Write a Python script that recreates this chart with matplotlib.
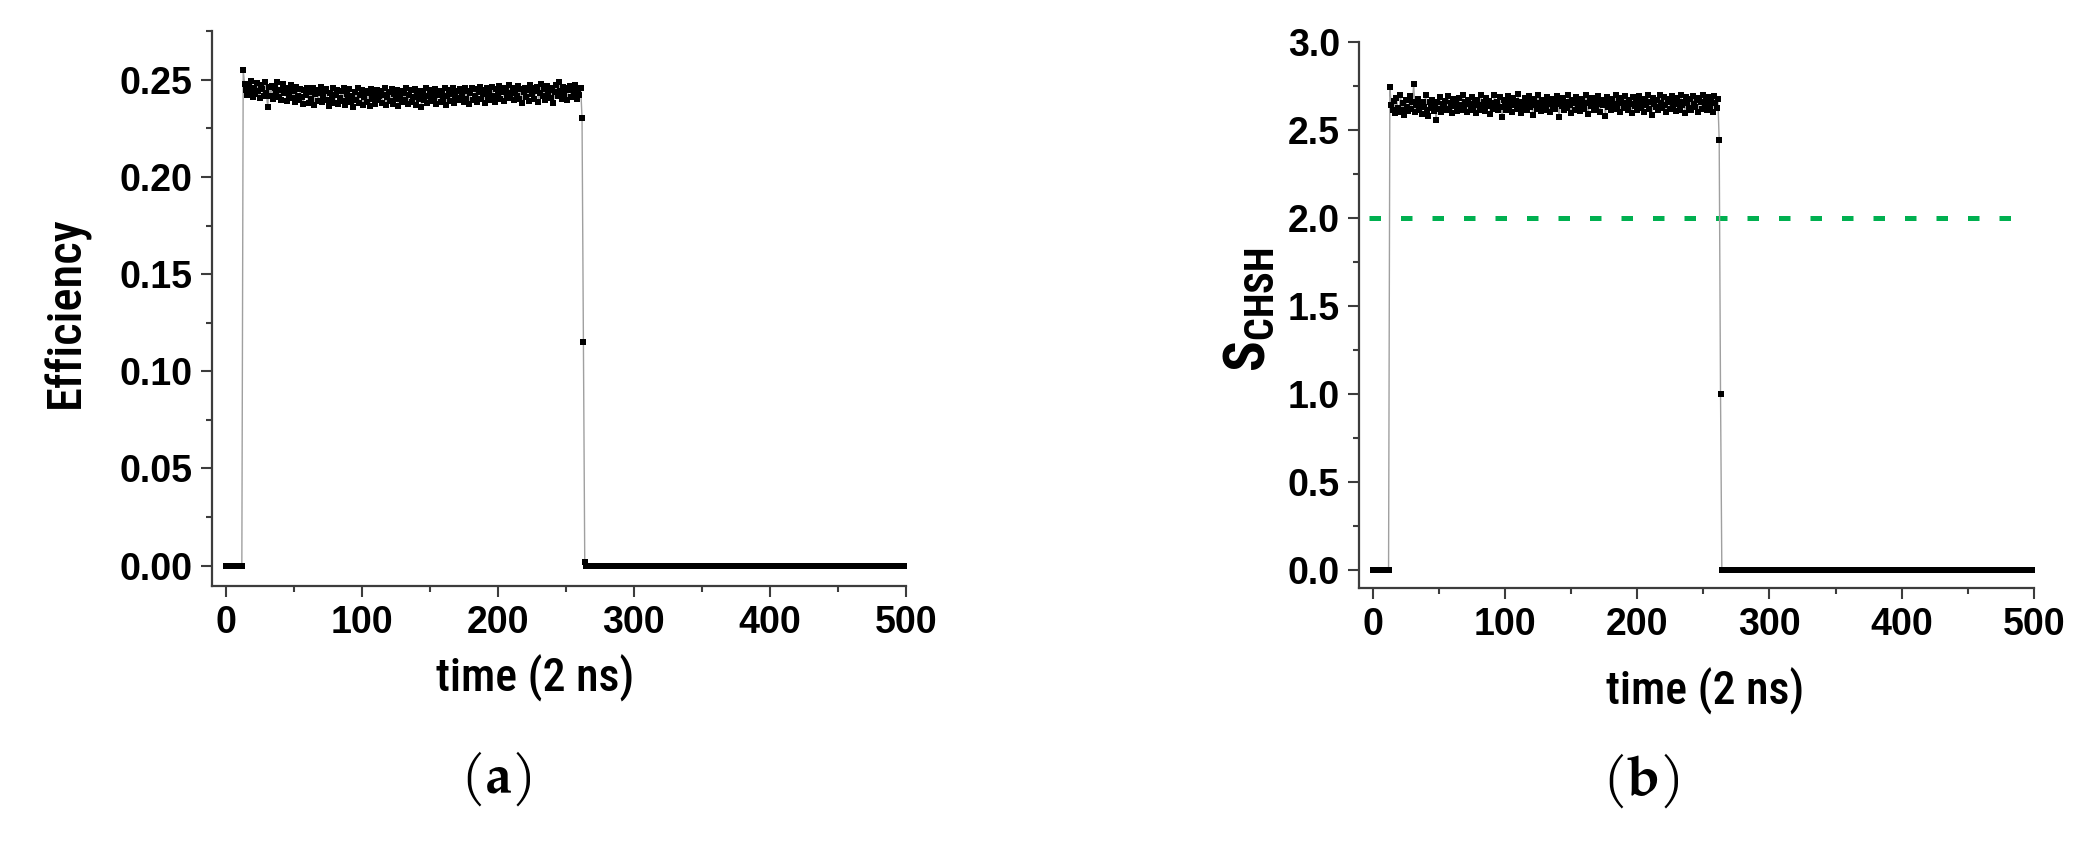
import numpy as np
import matplotlib
matplotlib.use("Agg")
import matplotlib.pyplot as plt
from matplotlib.ticker import MultipleLocator, FormatStrFormatter

plt.rcParams['font.family'] = ['Liberation Sans', 'DejaVu Sans']
plt.rcParams['font.weight'] = 'bold'
plt.rcParams['mathtext.fontset'] = 'custom'
plt.rcParams['mathtext.rm'] = 'Roboto Condensed'
plt.rcParams['mathtext.bf'] = 'TeX Gyre Pagella:bold'

NARROW = ['Roboto Condensed', 'Liberation Sans', 'DejaVu Sans']
SERIF = ['TeX Gyre Pagella', 'Liberation Serif', 'DejaVu Serif']

# ---- data ----
time = np.arange(0, 501)          # time in units of 2 ns
n_off_before = 13                 # t = 0..12 -> zero
n_off_after = 236                 # t = 265..500 -> zero

# efficiency on-plateau, t = 13..261 (units of 1e-4)
eff_on = [2550,
          2480, 2445, 2420, 2470, 2435, 2495, 2410, 2460, 2425, 2485, 2440, 2405, 2475, 2450, 2418, 2490, 2430, 2362, 2465, 2415,
          2470, 2400, 2455, 2425, 2488, 2410, 2445, 2395, 2478, 2430, 2460, 2390, 2450, 2420, 2472, 2405, 2440, 2385, 2465, 2415,
          2395, 2450, 2410, 2375, 2445, 2420, 2460, 2380, 2435, 2400, 2455, 2370, 2425, 2445, 2390, 2430, 2465, 2385, 2415, 2440,
          2450, 2395, 2365, 2430, 2410, 2460, 2380, 2420, 2445, 2375, 2405, 2440, 2390, 2455, 2370, 2425, 2400, 2450, 2385, 2415,
          2360, 2435, 2395, 2455, 2380, 2420, 2445, 2370, 2410, 2440, 2385, 2430, 2365, 2450, 2400, 2425, 2375, 2445, 2395, 2415,
          2440, 2380, 2420, 2455, 2370, 2410, 2435, 2390, 2450, 2375, 2425, 2400, 2445, 2365, 2415, 2440, 2385, 2430, 2395, 2455,
          2375, 2420, 2445, 2385, 2410, 2450, 2370, 2430, 2400, 2440, 2360, 2425, 2395, 2455, 2380, 2415, 2445, 2390, 2435, 2405,
          2450, 2375, 2420, 2440, 2385, 2430, 2400, 2455, 2370, 2415, 2445, 2390, 2425, 2460, 2380, 2410, 2440, 2395, 2450, 2405,
          2425, 2385, 2455, 2400, 2440, 2375, 2430, 2460, 2395, 2415, 2450, 2385, 2435, 2465, 2400, 2425, 2445, 2380, 2455, 2410,
          2440, 2395, 2465, 2415, 2385, 2450, 2425, 2470, 2400, 2435, 2455, 2390, 2445, 2420, 2475, 2405, 2430, 2460, 2395, 2440,
          2415, 2470, 2400, 2450, 2380, 2435, 2460, 2410, 2445, 2390, 2475, 2425, 2455, 2400, 2440, 2465, 2385, 2430, 2480, 2415,
          2450, 2395, 2470, 2425, 2445, 2405, 2460, 2380, 2435, 2475, 2415, 2490, 2440, 2400, 2465, 2425, 2455, 2395, 2445, 2470,
          2410, 2450, 2430, 2475, 2400, 2445, 2420, 2460]
eff_fall = [0.2305, 0.115, 0.002]   # t = 262, 263, 264

# S_CHSH on-plateau, t = 13..261 (units of 1e-3)
s_on = [2745,
        2640, 2610, 2665, 2595, 2680, 2625, 2600, 2700, 2615, 2650, 2585, 2670, 2630, 2605, 2690, 2620, 2655, 2760, 2600, 2640,
        2675, 2610, 2645, 2590, 2660, 2630, 2700, 2615, 2580, 2655, 2625, 2670, 2605, 2640, 2555, 2660, 2620, 2685, 2600, 2645,
        2630, 2665, 2610, 2690, 2620, 2650, 2595, 2675, 2635, 2660, 2605, 2680, 2640, 2615, 2700, 2625, 2655, 2600, 2670, 2645,
        2615, 2685, 2630, 2660, 2595, 2670, 2640, 2610, 2695, 2625, 2655, 2605, 2680, 2635, 2665, 2590, 2650, 2620, 2700, 2640,
        2660, 2615, 2685, 2630, 2575, 2670, 2645, 2610, 2690, 2625, 2655, 2600, 2680, 2640, 2665, 2620, 2705, 2635, 2595, 2660,
        2625, 2680, 2645, 2610, 2690, 2630, 2665, 2585, 2675, 2640, 2620, 2700, 2650, 2605, 2670, 2635, 2660, 2615, 2685, 2645,
        2600, 2675, 2630, 2660, 2620, 2690, 2645, 2570, 2665, 2635, 2680, 2610, 2655, 2625, 2700, 2640, 2595, 2670, 2650, 2615,
        2685, 2630, 2660, 2605, 2675, 2640, 2620, 2695, 2650, 2590, 2665, 2635, 2680, 2615, 2655, 2625, 2690, 2645, 2600, 2670,
        2640, 2660, 2580, 2685, 2630, 2650, 2610, 2675, 2645, 2620, 2700, 2635, 2665, 2600, 2680, 2650, 2625, 2690, 2640, 2610,
        2670, 2645, 2595, 2685, 2635, 2660, 2615, 2690, 2650, 2625, 2675, 2600, 2665, 2640, 2700, 2620, 2655, 2585, 2680, 2645,
        2630, 2670, 2610, 2695, 2650, 2625, 2685, 2640, 2600, 2675, 2655, 2620, 2690, 2635, 2665, 2605, 2680, 2645, 2615, 2700,
        2640, 2660, 2595, 2685, 2650, 2625, 2675, 2610, 2690, 2645, 2630, 2670, 2600, 2680, 2655, 2620, 2695, 2640, 2665, 2610,
        2685, 2635, 2660, 2600, 2690, 2650, 2625, 2675]
s_fall = [2.44, 1.00, 0.0]          # t = 262, 263, 264

s_classical = 2.0                   # CHSH classical bound
bound_t = [-3, 490]

efficiency = np.concatenate([[0.0] * n_off_before, np.array(eff_on) / 1e4,
                             eff_fall, [0.0] * n_off_after])
s_chsh = np.concatenate([[0.0] * n_off_before, np.array(s_on) / 1e3,
                         s_fall, [0.0] * n_off_after])

# ---- plotting ----
fig = plt.figure(figsize=(20.96, 8.42), dpi=100)
ax1 = fig.add_axes([0.1011, 0.304, 0.3311, 0.659])
ax2 = fig.add_axes([0.6486, 0.3017, 0.3218, 0.6488])


def style_axis(ax):
    for side in ['top', 'right']:
        ax.spines[side].set_visible(False)
    for side in ['left', 'bottom']:
        ax.spines[side].set_color('#3c3c3c')
        ax.spines[side].set_linewidth(1.6)
    ax.xaxis.set_major_locator(MultipleLocator(100))
    ax.xaxis.set_minor_locator(MultipleLocator(50))
    ax.tick_params(which='major', direction='out', length=8, width=1.5,
                   color='#3c3c3c', labelsize=27, pad=6)
    ax.tick_params(which='minor', direction='out', length=4.5, width=1.5,
                   color='#3c3c3c')
    ax.set_xlim(-10, 500)


for ax, y in [(ax1, efficiency), (ax2, s_chsh)]:
    ax.plot(time, y, '-', color='#a0a0a0', lw=1.0, zorder=2)
    ax.plot(time, y, 's', color='black', ms=4.2, mew=0, zorder=3)
    style_axis(ax)

ax2.plot(bound_t, [s_classical, s_classical], color='#00b050', lw=3.6,
         linestyle=(0, (2.3, 4.0)), dash_capstyle='butt', zorder=1)

ax1.set_ylim(-0.0105, 0.275)
ax1.yaxis.set_major_locator(MultipleLocator(0.05))
ax1.yaxis.set_minor_locator(MultipleLocator(0.025))
ax1.yaxis.set_major_formatter(FormatStrFormatter('%.2f'))

ax2.set_ylim(-0.1, 3.0)
ax2.yaxis.set_major_locator(MultipleLocator(0.5))
ax2.yaxis.set_minor_locator(MultipleLocator(0.25))
ax2.yaxis.set_major_formatter(FormatStrFormatter('%.1f'))

ax1.set_ylabel('Efficiency', fontsize=35, family=NARROW, fontweight='medium')
ax1.yaxis.set_label_coords(-0.176, 0.494)
ax2.set_ylabel(r'$\mathrm{S}_{\mathrm{CHSH}}$', fontsize=41, fontweight='normal')
ax2.yaxis.set_label_coords(-0.122, 0.509)

for ax, xc, yc in [(ax1, 0.466, -0.124), (ax2, 0.512, -0.145)]:
    ax.set_xlabel('time (2 ns)', fontsize=33, family=NARROW, fontweight='medium')
    ax.xaxis.set_label_coords(xc, yc)

ax1.text(0.409, -0.35, r'($\mathbf{a}$)', transform=ax1.transAxes, ha='center',
         va='center', fontsize=39, family=SERIF, fontweight='normal')
ax2.text(0.417, -0.355, r'($\mathbf{b}$)', transform=ax2.transAxes, ha='center',
         va='center', fontsize=39, family=SERIF, fontweight='normal')

fig.savefig('out.png', dpi=100)
